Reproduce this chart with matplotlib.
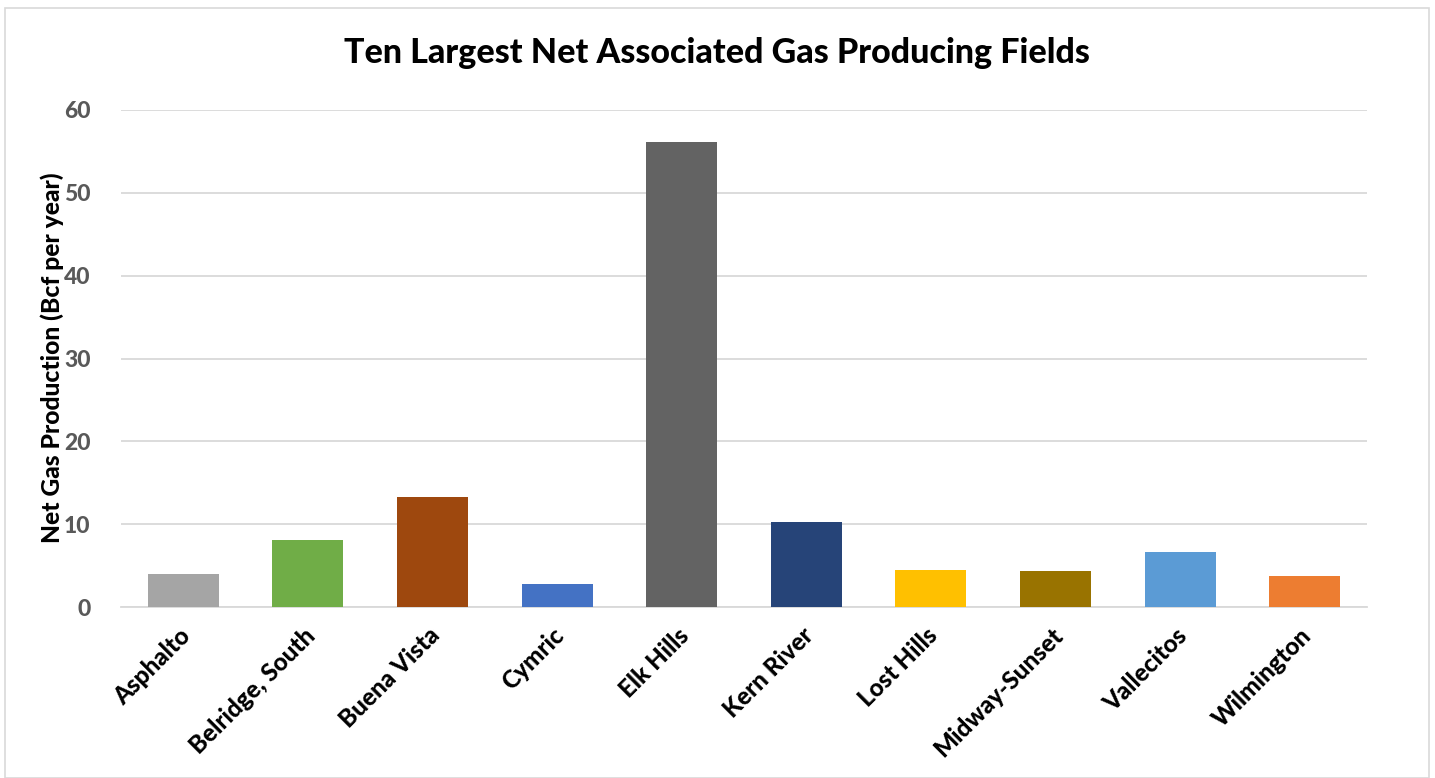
import matplotlib
matplotlib.use("Agg")
import matplotlib.pyplot as plt
from matplotlib.patches import Rectangle
from matplotlib.transforms import ScaledTranslation

fields = ["Asphalto", "Belridge, South", "Buena Vista", "Cymric", "Elk Hills",
          "Kern River", "Lost Hills", "Midway-Sunset", "Vallecitos", "Wilmington"]
net_gas_bcf = [4.0, 8.1, 13.3, 2.8, 56.1, 10.3, 4.5, 4.4, 6.7, 3.7]
bar_colors = ["#A5A5A5", "#70AD47", "#9E480E", "#4472C4", "#636363",
              "#264478", "#FFC000", "#997300", "#5B9BD5", "#ED7D31"]
y_ticks = [0, 10, 20, 30, 40, 50, 60]

plt.rcParams["font.family"] = ["Lato", "DejaVu Sans"]
WEIGHT = "black"

fig = plt.figure(figsize=(14.35, 7.78), dpi=100)
fig.patches.append(Rectangle((5 / 1435, 0.0), 1424 / 1435, 1 - 8 / 778,
                             transform=fig.transFigure, fill=False,
                             edgecolor="#D9D9D9", linewidth=1.2))

ax = fig.add_axes([121 / 1435, 1 - 607 / 778, 1246 / 1435, 497 / 778])
x = range(len(fields))
ax.bar(x, net_gas_bcf, width=0.57, color=bar_colors, zorder=3)

ax.set_xlim(-0.5, len(fields) - 0.5)
ax.set_ylim(0, 60)
ax.set_yticks(y_ticks)
ax.set_yticklabels([str(v) for v in y_ticks], fontsize=16.5, fontweight=WEIGHT,
                   color="#595959")
ax.set_xticks(list(x))
ax.set_xticklabels(fields, rotation=45, ha="right", va="top",
                   rotation_mode="anchor", fontsize=17.5, fontweight=WEIGHT,
                   color="black")
ax.tick_params(axis="both", length=0)
ax.tick_params(axis="y", pad=22)
ax.tick_params(axis="x", pad=12)

# nudge the slanted category labels slightly left
shift = ScaledTranslation(-5 / 100, 0, fig.dpi_scale_trans)
for lbl in ax.get_xticklabels():
    lbl.set_transform(lbl.get_transform() + shift)

ax.grid(axis="y", color="#D9D9D9", linewidth=1.3, zorder=0)
for side in ["top", "right", "left"]:
    ax.spines[side].set_visible(False)
ax.spines["bottom"].set_color("#D9D9D9")
ax.spines["bottom"].set_linewidth(1.3)

ax.set_ylabel("Net Gas Production (Bcf per year)", fontsize=17.7,
              fontweight=WEIGHT, color="black")
ax.yaxis.set_label_coords(-57 / 1246, 0.502)

fig.text(717 / 1435, 1 - 53 / 778, "Ten Largest Net Associated Gas Producing Fields",
         ha="center", va="center", fontsize=24.5, fontweight=WEIGHT, color="black")

fig.savefig("out.png", dpi=100, facecolor="white")
